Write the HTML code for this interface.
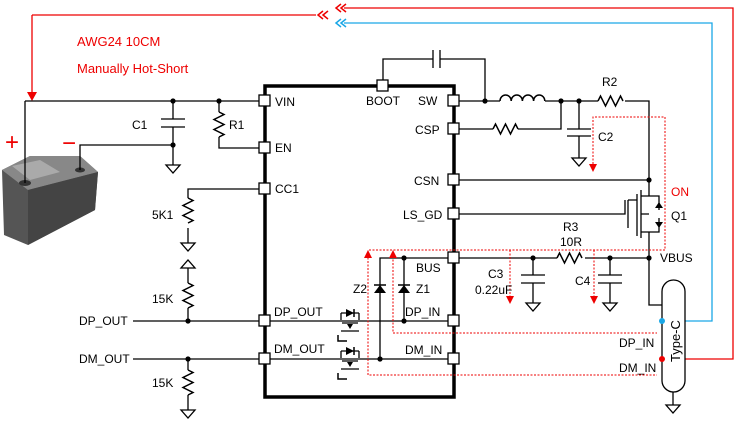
<!DOCTYPE html>
<html><head><style>body{margin:0;background:#fff}svg{display:block}text{font-family:"Liberation Sans",sans-serif;font-size:12px;fill:#000}</style></head>
<body>
<svg width="737" height="424" viewBox="0 0 737 424" xmlns="http://www.w3.org/2000/svg">
<defs>
<g id="gnd"><path d="M-7,0H7L0,8Z" fill="#fff" stroke="#000" stroke-width="1.3"/></g>
<g id="rv"><path d="M0,0 l5,2.5 l-10,5 l10,5 l-10,5 l10,5 l-5,2.5" fill="none" stroke="#000" stroke-width="1.5"/></g>
<g id="rh"><path d="M0,0 l2.5,-5 l5,10 l5,-10 l5,10 l5,-10 l2.5,5" fill="none" stroke="#000" stroke-width="1.5"/></g>
<g id="fet"><path d="M-9,-8H9M-9,-8V-1M9,-8V-1M-8,2H8M-9,10H9" stroke="#000" stroke-width="1.3" fill="none"/><path d="M-4,-12V-4L4,-8Z" fill="#000"/><path d="M4,-12V-4" stroke="#000" stroke-width="1.5"/><path d="M-3,3H3L0,8Z" fill="#000"/><path d="M-12,14V20H-3" stroke="#000" stroke-width="1.5" fill="none"/></g>
<g id="brk"><path d="M5,-4L0,0L5,4M10,-4L5,0L10,4" fill="none" stroke-width="1.5"/></g>
</defs>
<g fill="none" stroke-width="1.3">
<path d="M32,15H316M344,8H733V359H663" stroke="#e00"/>
<path d="M32,15V92" stroke="#e00"/>
<path d="M344,23H712V321H663" stroke="#1aa7e6"/>
</g>
<use href="#brk" x="318" y="15" stroke="#e00"/>
<use href="#brk" x="336" y="8" stroke="#e00"/>
<use href="#brk" x="336" y="23" stroke="#1aa7e6"/>
<path d="M27,92H37L32,101Z" fill="#e00"/>
<text x="77" y="46" style="fill:#e00;font-size:13px">AWG24 10CM</text>
<text x="77" y="73" style="fill:#e00;font-size:13px">Manually Hot-Short</text>
<text x="5" y="150" style="fill:#e00;font-size:24px">+</text>
<text x="62" y="151" style="fill:#e00;font-size:24px">−</text>
<g>
<path d="M2,170L30,156H80L98,172L95,210L28,245L4,235Z" fill="#555"/>
<path d="M2,170L30,156H80L98,172L28,190Z" fill="#888"/>
<path d="M28,190L98,172L95,210L28,245Z" fill="#444"/>
<path d="M12,166L40,160L60,172L30,180Z" fill="#aaa"/>
<ellipse cx="25" cy="183" rx="6" ry="3" fill="#333"/>
<ellipse cx="80" cy="170" rx="5" ry="2.5" fill="#333"/>
</g>
<rect x="265" y="86" width="189" height="311" fill="none" stroke="#000" stroke-width="3.5"/>
<g fill="none" stroke="#000" stroke-width="1.3">
<path d="M25,101H265M25,101V183"/>
<path d="M173,101V119M161,119H185M161,127H185M173,127V165"/>
<path d="M80,170V145H173"/>
<path d="M219,101V112M219,137V148H265"/>
<path d="M265,189H188V198M188,228V243"/>
<path d="M188,268V283M188,308V321"/>
<path d="M133,321H453M133,359H453"/>
<path d="M188,359V370M188,395V410"/>
<path d="M383,86V59H433M440,59H485V101M433,50V68M440,50V68"/>
<path d="M453,101H500M545,101H598M625,101H649V180M453,180H649"/>
<path d="M453,129H493M518,129H561V101"/>
<path d="M579,101V129M567,129H591M567,136H591M579,136V158"/>
<path d="M453,214H625V200"/>
<path d="M453,258H557M585,258H649V305H662"/>
<path d="M533,258V275M521,275H545M521,283H545M533,283V303"/>
<path d="M610,258V275M598,275H622M598,283H622M610,283V303"/>
<path d="M453,258H380V359M404,258V321"/>
<path d="M649,180V190M649,240V258"/>
<path d="M673,392V405"/>
</g>
<path d="M500,101a5.6,6 0 0 1 11.2,0a5.6,6 0 0 1 11.2,0a5.6,6 0 0 1 11.2,0a5.6,6 0 0 1 11.2,0" fill="none" stroke="#000" stroke-width="1.5"/>
<use href="#rv" x="219" y="112"/><use href="#rv" x="188" y="198"/>
<use href="#rv" x="188" y="283"/><use href="#rv" x="188" y="370"/>
<use href="#rh" x="598" y="101"/><use href="#rh" x="493" y="129"/><use href="#rh" x="557" y="258"/>
<use href="#gnd" x="173" y="165"/><use href="#gnd" x="188" y="243"/><use href="#gnd" x="188" y="410"/>
<use href="#gnd" x="579" y="158"/><use href="#gnd" x="533" y="303"/><use href="#gnd" x="610" y="303"/><use href="#gnd" x="673" y="405"/>
<path d="M181,268H195L188,260Z" fill="#fff" stroke="#000" stroke-width="1.3"/>
<path d="M374,293H386L380,285Z" fill="#000"/><path d="M374,285H386" stroke="#000" stroke-width="1.5"/>
<path d="M398,293H410L404,285Z" fill="#000"/><path d="M398,285H410" stroke="#000" stroke-width="1.5"/>
<use href="#fet" x="350" y="321"/><use href="#fet" x="350" y="359"/>
<g fill="none" stroke="#000" stroke-width="1.3">
<path d="M641,190V238M637,194V236M628,200H637V228M628,200V228M641,196H659V210M641,214H649M641,232H659V218M649,196V190M649,232V240"/>
</g>
<path d="M655,208h8l-4,-6z" fill="#000"/><path d="M655,222h8l-4,6z" fill="#000"/>
<rect x="662" y="280" width="23" height="112" rx="11.5" fill="#fff" stroke="#000" stroke-width="1.3"/>
<text transform="translate(680,362) rotate(-90)" style="font-size:13px">Type-C</text>
<circle cx="662" cy="321" r="3" fill="#1aa7e6"/><circle cx="662" cy="359" r="3" fill="#e00"/>
<g fill="#000">
<circle cx="173" cy="101" r="2.6"/><circle cx="219" cy="101" r="2.6"/><circle cx="173" cy="145" r="2.6"/>
<circle cx="188" cy="321" r="2.6"/><circle cx="188" cy="359" r="2.6"/>
<circle cx="485" cy="101" r="2.6"/><circle cx="561" cy="101" r="2.6"/><circle cx="579" cy="101" r="2.6"/>
<circle cx="649" cy="180" r="2.6"/><circle cx="649" cy="258" r="2.6"/><circle cx="533" cy="258" r="2.6"/><circle cx="610" cy="258" r="2.6"/>
<circle cx="404" cy="258" r="2.6"/><circle cx="404" cy="321" r="2.6"/><circle cx="380" cy="359" r="2.6"/>
</g>
<g fill="#fff" stroke="#000" stroke-width="1.3">
<rect x="259" y="95" width="11" height="11"/><rect x="259" y="142" width="11" height="11"/><rect x="259" y="183" width="11" height="11"/>
<rect x="259" y="315" width="11" height="11"/><rect x="259" y="353" width="11" height="11"/>
<rect x="448" y="95" width="11" height="11"/><rect x="448" y="123" width="11" height="11"/><rect x="448" y="174" width="11" height="11"/>
<rect x="448" y="208" width="11" height="11"/><rect x="448" y="252" width="11" height="11"/><rect x="448" y="315" width="11" height="11"/><rect x="448" y="353" width="11" height="11"/>
<rect x="377" y="80" width="11" height="11"/>
</g>
<g fill="none" stroke="#e00" stroke-width="1" stroke-dasharray="2,1.5">
<path d="M593,164V117H665V250H368V375H657"/>
<path d="M393,256V333H657"/>
<path d="M510,250V296M594,250V296"/>
</g>
<g fill="#e00"><path d="M589,164h8l-4,8z"/><path d="M506,296h8l-4,8z"/><path d="M590,296h8l-4,8z"/><path d="M364,258h8l-4,-8z"/><path d="M389,258h8l-4,-8z"/></g>
<text x="275" y="106">VIN</text><text x="275" y="152">EN</text><text x="275" y="193">CC1</text>
<text x="274" y="316">DP_OUT</text><text x="274" y="353">DM_OUT</text>
<text x="366" y="105">BOOT</text><text x="418" y="105">SW</text><text x="415" y="134">CSP</text><text x="414" y="185">CSN</text><text x="403" y="219">LS_GD</text>
<text x="416" y="272">BUS</text><text x="405" y="316">DP_IN</text><text x="405" y="354">DM_IN</text>
<text x="132" y="129">C1</text><text x="229" y="129">R1</text><text x="152" y="219">5K1</text><text x="152" y="303">15K</text><text x="152" y="387">15K</text>
<text x="79" y="325">DP_OUT</text><text x="79" y="363">DM_OUT</text>
<text x="602" y="86">R2</text><text x="598" y="141">C2</text>
<text x="671" y="196" style="fill:#e00">ON</text><text x="671" y="220">Q1</text>
<text x="563" y="231">R3</text><text x="560" y="246">10R</text><text x="660" y="262">VBUS</text>
<text x="488" y="278">C3</text><text x="475" y="294">0.22uF</text><text x="575" y="285">C4</text>
<text x="353" y="293">Z2</text><text x="416" y="293">Z1</text>
<text x="619" y="347">DP_IN</text><text x="619" y="372">DM_IN</text>
</svg>
</body></html>
